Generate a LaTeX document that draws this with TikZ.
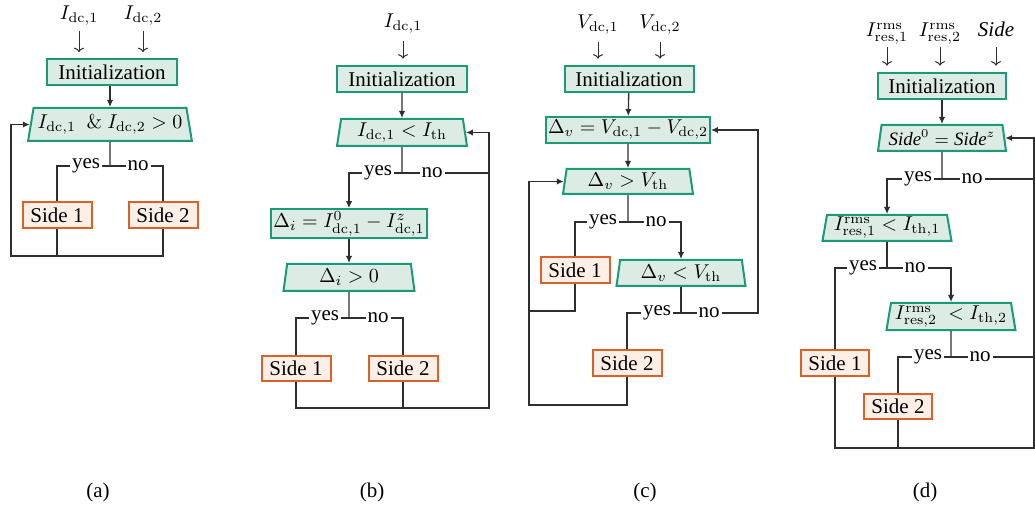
\documentclass[tikz,border=0pt]{standalone}
\usepackage{amsmath}
\usepackage[no-math]{fontspec}
\setmainfont{Liberation Serif}[Scale=1.05]
\usetikzlibrary{shapes.geometric, arrows.meta, calc}

\definecolor{boxgreen}{HTML}{1B9A78}
\definecolor{fillgreen}{HTML}{DCECE5}
\definecolor{boxorange}{HTML}{D9622B}
\definecolor{fillorange}{HTML}{FDEEE6}
\definecolor{wirec}{HTML}{2E2E2E}

\begin{document}
\begin{tikzpicture}[x=0.5pt, y=-0.5pt,
  initbox/.style={draw=boxgreen, fill=fillgreen, line width=1pt, minimum width=65pt, minimum height=13pt, inner sep=1pt},
  decbox/.style={trapezium, trapezium left angle=80, trapezium right angle=80, trapezium stretches body,
    draw=boxgreen, fill=fillgreen, line width=1pt, minimum height=13pt, inner xsep=2pt, inner ysep=1pt},
  sidebox/.style={draw=boxorange, fill=fillorange, line width=1pt, minimum width=34.5pt, minimum height=13pt, inner sep=1pt},
  inlbl/.style={anchor=base, inner sep=0pt},
  wire/.style={draw=wirec, line width=0.65pt},
  arr/.style={wire, -{Latex[length=3.5pt, width=3.2pt]}},
  inarr/.style={wire, line width=0.5pt, -{To[length=2.2pt, width=5pt]}, shorten >=3.2pt},
  lbl/.style={fill=white, inner sep=1pt}
]
\useasboundingbox (0,0) rectangle (1035,508);

% ---------------- (a)
\node[inlbl] (a_in1) at (79,20) {$I_{\mathrm{dc},1}$};
\node[inlbl] (a_in2) at (143,20) {$I_{\mathrm{dc},2}$};
\node[initbox] (a_init) at (112,72.5) {Initialization};
\node[decbox, minimum width=74.5pt, minimum height=16.5pt, trapezium left angle=77, trapezium right angle=77] (a_dec) at (110,124.5) {$I_{\mathrm{dc},1}\ \ \&\ I_{\mathrm{dc},2}>0$};
\node[sidebox] (a_s1) at (57,215) {Side 1};
\node[sidebox] (a_s2) at (163,215) {Side 2};
\coordinate (a_j) at (110,166);
\coordinate (a_b) at (11,256);

\foreach \n in {a_in1,a_in2}
  \draw[inarr] ([yshift=-5.5pt]\n.base) -- (\n |- a_init.north);
\draw[arr] (a_init.south -| a_dec.north) -- (a_dec.north);
\draw[wire] (a_dec) -- (a_j);
\draw[wire] (a_j) -| (a_s1);
\draw[wire] (a_j) -| (a_s2);
\draw[wire] (a_s1) -- (a_s1 |- a_b);
\draw[arr] (a_s2) |- (a_b) |- (a_dec.west);
\node[lbl] (a_yes) at (86,166) {yes};
\node[lbl] (a_no) at (138,166) {no};

% ---------------- (b)
\node[inlbl] (b_in1) at (403,28) {$I_{\mathrm{dc},1}$};
\node[initbox] (b_init) at (402,79) {Initialization};
\node[decbox, minimum width=65pt, minimum height=13.5pt] (b_dec1) at (402,132.5) {$I_{\mathrm{dc},1}<I_{\mathrm{th}}$};
\node[initbox, minimum width=74.5pt, minimum height=13.5pt] (b_calc) at (349,223.5) {$\Delta_i=I^0_{\mathrm{dc},1}-I^z_{\mathrm{dc},1}$};
\node[decbox, minimum width=65.5pt, minimum height=13.5pt] (b_dec2) at (349,277.5) {$\Delta_i>0$};
\node[sidebox, minimum height=12.5pt] (b_s1) at (296,368.5) {Side 1};
\node[sidebox, minimum height=12.5pt] (b_s2) at (403,368.5) {Side 2};
\coordinate (b_j1) at (402,173);
\coordinate (b_j2) at (349,318);
\coordinate (b_r) at (489,408);

\draw[inarr] ([yshift=-6.5pt]b_in1.base) -- (b_in1 |- b_init.north);
\draw[arr] (b_init) -- (b_dec1);
\draw[wire] (b_dec1) -- (b_j1);
\draw[arr] (b_j1) -| (b_calc);
\draw[wire] (b_j1) -- (b_j1 -| b_r);
\draw[arr] (b_calc) -- (b_dec2);
\draw[wire] (b_dec2) -- (b_j2);
\draw[wire] (b_j2) -| (b_s1);
\draw[wire] (b_j2) -| (b_s2);
\draw[wire] (b_s1) |- (b_r);
\draw[arr] (b_s2) |- (b_r) |- (b_dec1.east);
\node[lbl] (b_yes1) at (378,173) {yes};
\node[lbl] (b_no1) at (432,173) {no};
\node[lbl] (b_yes2) at (325,318) {yes};
\node[lbl] (b_no2) at (378,318) {no};

% ---------------- (c)
\node[inlbl] (c_in1) at (598,29) {$V_{\mathrm{dc},1}$};
\node[inlbl] (c_in2) at (660,29) {$V_{\mathrm{dc},2}$};
\node[initbox, minimum width=64.5pt] (c_init) at (629,79) {Initialization};
\node[initbox, minimum width=78.5pt] (c_calc) at (628,130) {$\Delta_v=V_{\mathrm{dc},1}-V_{\mathrm{dc},2}$};
\node[decbox, minimum width=65pt, minimum height=12.5pt] (c_dec1) at (628,181.5) {$\Delta_v>V_{\mathrm{th}}$};
\node[sidebox] (c_s1) at (575,270) {Side 1};
\node[decbox, minimum width=64.5pt] (c_dec2) at (681,273) {$\Delta_v<V_{\mathrm{th}}$};
\node[sidebox] (c_s2) at (627,363) {Side 2};
\coordinate (c_j1) at (628,222);
\coordinate (c_j2) at (681,313);
\coordinate (c_r) at (758,313);
\coordinate (c_l) at (529,311);
\coordinate (c_b) at (529,405);

\foreach \n in {c_in1,c_in2}
  \draw[inarr] ([yshift=-6.5pt]\n.base) -- (\n |- c_init.north);
\draw[arr] (c_init) -- (c_calc);
\draw[arr] (c_calc) -- (c_dec1);
\draw[wire] (c_dec1) -- (c_j1);
\draw[wire] (c_j1) -| (c_s1);
\draw[arr] (c_j1) -| (c_dec2);
\draw[wire] (c_dec2) -- (c_j2);
\draw[wire] (c_j2) -| (c_s2);
\draw[arr] (c_j2) -- (c_r) |- (c_calc.east);
\draw[wire] (c_s1) |- (c_l);
\draw[arr] (c_s2) |- (c_b) |- (c_dec1.west);
\node[lbl] (c_yes1) at (603,222) {yes};
\node[lbl] (c_no1) at (656,222) {no};
\node[lbl] (c_yes2) at (657,313) {yes};
\node[lbl] (c_no2) at (709,313) {no};

% ---------------- (d)
\node[inlbl] (d_in1) at (887,37) {$I^{\mathrm{rms}}_{\mathrm{res},1}$};
\node[inlbl] (d_in2) at (940,37) {$I^{\mathrm{rms}}_{\mathrm{res},2}$};
\node[inlbl] (d_in3) at (996,37) {\textit{Side}};
\node[initbox, minimum width=64pt] (d_init) at (942,86) {Initialization};
\node[decbox, minimum width=64pt, font=\fontsize{9}{10}\selectfont] (d_dec1) at (942,138) {$\textit{Side}^0=\textit{Side}^z$};
\node[decbox, minimum width=64.5pt] (d_dec2) at (887,228) {$I^{\mathrm{rms}}_{\mathrm{res},1}<I_{\mathrm{th},1}$};
\node[decbox, minimum width=64pt, minimum height=13.5pt] (d_dec3) at (951,316.5) {$I^{\mathrm{rms}}_{\mathrm{res},2}\;<I_{\mathrm{th},2}$};
\node[sidebox, minimum width=34pt] (d_s1) at (835,363) {Side 1};
\node[sidebox, minimum width=34pt, minimum height=12.5pt] (d_s2) at (898,406.5) {Side 2};
\coordinate (d_j1) at (942,179);
\coordinate (d_j2) at (887,268);
\coordinate (d_j3) at (951,357);
\coordinate (d_r) at (1034,448);

\foreach \n in {d_in1,d_in2,d_in3}
  \draw[inarr] ([yshift=-5pt]\n.base) -- (\n |- d_init.north);
\draw[arr] (d_init) -- (d_dec1);
\draw[wire] (d_dec1) -- (d_j1);
\draw[arr] (d_j1) -| (d_dec2);
\draw[wire] (d_j1) -- (d_j1 -| d_r);
\draw[wire] (d_dec2) -- (d_j2);
\draw[wire] (d_j2) -| (d_s1);
\draw[arr] (d_j2) -| (d_dec3);
\draw[wire] (d_dec3) -- (d_j3);
\draw[wire] (d_j3) -| (d_s2);
\draw[wire] (d_j3) -- (d_j3 -| d_r);
\draw[wire] (d_s2) |- (d_r);
\draw[arr] (d_s1) |- (d_r) |- (d_dec1.east);
\node[lbl] (d_yes1) at (918,179) {yes};
\node[lbl] (d_no1) at (972,179) {no};
\node[lbl] (d_yes2) at (863,268) {yes};
\node[lbl] (d_no2) at (915,268) {no};
\node[lbl] (d_yes3) at (928,357) {yes};
\node[lbl] (d_no3) at (980,357) {no};

% ---------------- captions
\node (cap_a) at (98,492) {(a)};
\node (cap_b) at (372,492) {(b)};
\node (cap_c) at (645,492) {(c)};
\node (cap_d) at (925,492) {(d)};

\end{tikzpicture}
\end{document}
